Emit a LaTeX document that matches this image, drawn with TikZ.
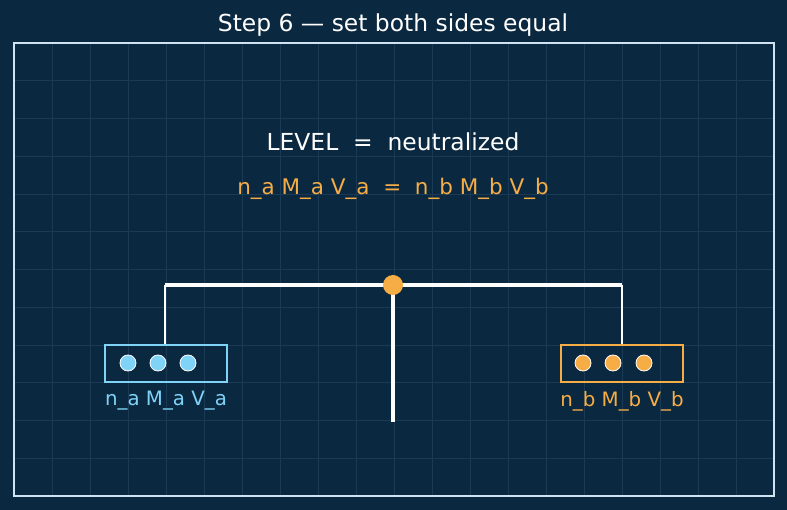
\documentclass[tikz,border=0pt]{standalone}
\usepackage{fontspec}
\setmainfont{DejaVu Sans}
\definecolor{bg}{HTML}{0B2841}
\definecolor{gridc}{HTML}{1B3A55}
\definecolor{framec}{HTML}{CFE3F0}
\definecolor{lblue}{HTML}{7FD3F7}
\definecolor{orng}{HTML}{F6AD45}
\begin{document}
\begin{tikzpicture}[x=1pt,y=-1pt,
  txt/.style={inner sep=0pt,anchor=center},
  beam/.style={draw=white,line width=3.5pt},
  hanger/.style={draw=white,line width=2pt},
  pan/.style={draw=#1,line width=2pt,minimum width=122pt,minimum height=37pt,inner sep=0pt},
  dot/.style={circle,fill=#1,draw=white,line width=0.8pt,minimum size=16pt,inner sep=0pt}]
\fill[bg] (0,0) rectangle (787,510);
\useasboundingbox (0,0) rectangle (787,510);
\foreach \i in {1,...,19} \draw[gridc,line width=0.7pt] ({14+\i*38},43) -- ({14+\i*38},496);
\foreach \j in {1,...,11} \draw[gridc,line width=0.7pt] (14,{43+\j*37.75}) -- (774,{43+\j*37.75});
\draw[framec,line width=1.5pt] (14,43) rectangle (774,496);
\node[txt,text=white,font=\fontsize{23.4}{26}\selectfont] (title) at (393,25) {Step 6 — set both sides equal};
\node[txt,text=white,font=\fontsize{23.4}{26}\selectfont] (level) at (393,142) {LEVEL\ \ =\ \ neutralized};
\node[txt,text=orng,font=\fontsize{21.5}{24}\selectfont] (formula) at (393,189) {n\_a M\_a V\_a\ \ =\ \ n\_b M\_b V\_b};
\coordinate (bl) at (165,285);
\coordinate (br) at (622,285);
\coordinate (base) at (393,422);
\node[pan=lblue] (lpan) at (166,363.5) {};
\node[pan=orng] (rpan) at (621.5,363.5) {};
\draw[hanger] (bl) -- (lpan.north -| bl);
\draw[hanger] (br) -- (rpan.north -| br);
\draw[beam] (bl) -- (br);
\draw[beam] (393,285) -- (base);
\node[circle,fill=orng,minimum size=20pt,inner sep=0pt] (pivot) at (393,285) {};
\node[dot=lblue] (la1) at (128,363) {};
\node[dot=lblue] (la2) at (158,363) {};
\node[dot=lblue] (la3) at (188,363) {};
\node[dot=orng] (rb1) at (583,363) {};
\node[dot=orng] (rb2) at (613,363) {};
\node[dot=orng] (rb3) at (644,363) {};
\node[txt,text=lblue,font=\fontsize{19.8}{22}\selectfont] (llab) at (166,401) {n\_a M\_a V\_a};
\node[txt,text=orng,font=\fontsize{19.8}{22}\selectfont] (rlab) at (622,401) {n\_b M\_b V\_b};
\end{tikzpicture}
\end{document}
